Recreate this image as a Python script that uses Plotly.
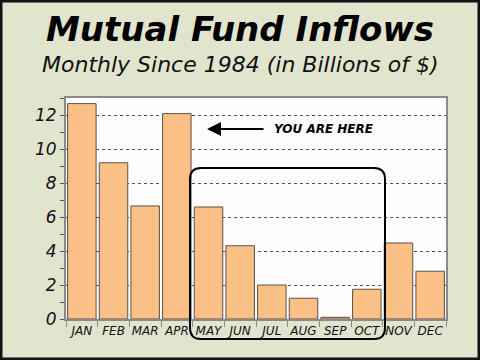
import plotly.graph_objects as go

months = ["JAN", "FEB", "MAR", "APR", "MAY", "JUN", "JUL", "AUG", "SEP", "OCT", "NOV", "DEC"]
inflows = [12.67, 9.19, 6.65, 12.08, 6.59, 4.31, 2.0, 1.22, 0.1, 1.75, 4.47, 2.81]
y_ticks = [0, 2, 4, 6, 8, 10, 12]

title_text = "Mutual Fund Inflows"
subtitle_text = "Monthly Since 1984 (in Billions of $)"
callout_text = "YOU ARE HERE"

W, H = 480, 360
L, R, T, B = 66, 34, 98, 41
PW, PH = W - L - R, H - T - B


def px_x(p):
    return (p - L) / PW


def px_y(p):
    return (H - B - p) / PH


fig = go.Figure()
fig.add_trace(go.Bar(
    x=months, y=inflows,
    marker=dict(color="#fbc086", line=dict(color="#5a5048", width=1)),
    width=0.9, hoverinfo="skip",
))

# rounded rectangle highlight (pixel -> paper)
x0, x1 = px_x(190), px_x(385)
y0, y1 = px_y(339), px_y(168)
rx, ry = 11 / PW, 11 / PH
path = (
    f"M {x0+rx},{y1} L {x1-rx},{y1} Q {x1},{y1} {x1},{y1-ry} "
    f"L {x1},{y0+ry} Q {x1},{y0} {x1-rx},{y0} "
    f"L {x0+rx},{y0} Q {x0},{y0} {x0},{y0+ry} "
    f"L {x0},{y1-ry} Q {x0},{y1} {x0+rx},{y1} Z"
)

shapes = [
    # gap in gridline at 8
    dict(type="rect", xref="paper", yref="y", x0=px_x(220), x1=px_x(357), y0=7.85, y1=8.15,
         fillcolor="#fdfefd", line=dict(width=0), layer="between"),
    dict(type="path", xref="paper", yref="paper", path=path,
         line=dict(color="#000000", width=2), layer="above"),
    # outer frame
    dict(type="rect", xref="paper", yref="paper",
         x0=px_x(0), x1=px_x(W), y0=px_y(H), y1=px_y(0),
         line=dict(color="#111111", width=5), layer="above"),
]

annotations = [
    dict(text=f"<b><i>{title_text}</i></b>", xref="paper", yref="paper",
         x=px_x(240), y=px_y(29), xanchor="center", yanchor="middle", showarrow=False,
         font=dict(family="DejaVu Sans", size=34, color="#000000")),
    dict(text=f"<i>{subtitle_text}</i>", xref="paper", yref="paper",
         x=px_x(240), y=px_y(64), xanchor="center", yanchor="middle", showarrow=False,
         font=dict(family="DejaVu Sans", size=22, color="#111111")),
    dict(text="", xref="paper", yref="paper", x=px_x(207), y=px_y(129),
         ax=58, ay=0, showarrow=True, arrowhead=2, arrowsize=1.4, arrowwidth=2,
         arrowcolor="#000000"),
    dict(text=f"<b><i>{callout_text}</i></b>", xref="paper", yref="paper",
         x=px_x(272), y=px_y(129), xanchor="left", yanchor="middle", showarrow=False,
         font=dict(family="DejaVu Sans", size=12, color="#000000")),
]

fig.update_layout(
    width=W, height=H,
    margin=dict(l=L, r=R, t=T, b=B),
    paper_bgcolor="#e2e5cd",
    plot_bgcolor="#fdfefd",
    showlegend=False,
    bargap=0.1,
    shapes=shapes,
    annotations=annotations,
)

fig.update_xaxes(
    tickfont=dict(family="DejaVu Sans", size=12, color="#111111"),
    tickprefix="<i>", ticksuffix="</i>", tickangle=0, automargin=False,
    showline=True, linecolor="#8a8a8a", linewidth=2, mirror=True,
    ticks="outside", tickson="boundaries", ticklen=6, tickcolor="#8a8a8a", tickwidth=1,
    showgrid=False,
)
fig.update_yaxes(
    range=[0, 13], tickvals=y_ticks, automargin=False,
    ticktext=[f"<i>{v}</i>" for v in y_ticks],
    tickfont=dict(family="DejaVu Sans", size=17, color="#111111"),
    showline=True, linecolor="#8a8a8a", linewidth=2, mirror=True,
    ticks="outside", ticklen=4, tickcolor="#555555", tickwidth=1,
    minor=dict(dtick=1, ticks="outside", ticklen=4, tickcolor="#555555", showgrid=False),
    showgrid=True, gridcolor="#555555", griddash="dot", gridwidth=1,
    zeroline=False,
)

fig.write_html("out.html", config={"displayModeBar": False},
               post_script="document.body.style.margin='0px';")
